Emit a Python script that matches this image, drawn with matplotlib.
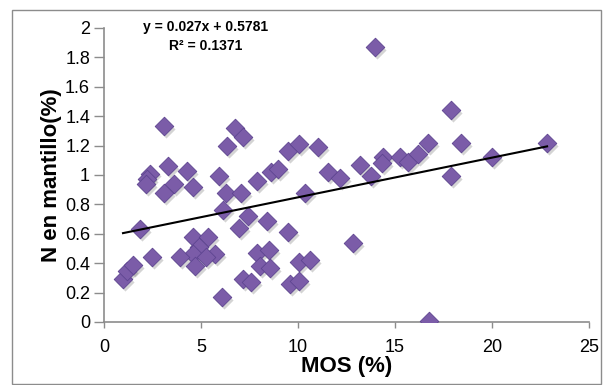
import matplotlib
matplotlib.use("Agg")
import matplotlib.pyplot as plt
from matplotlib.patches import Rectangle
import numpy as np

# MOS (%) vs N en mantillo (%)
mos = [0.98, 1.19, 1.49, 1.86, 2.47, 3.09, 3.30, 4.28, 2.37, 2.22,
       2.16, 5.93, 3.61, 3.09, 4.59, 6.29, 7.06, 7.89, 6.75, 7.16,
       6.34, 8.61, 8.97, 9.48, 10.05, 11.03, 11.55, 12.16, 13.2, 13.76,
       14.38, 14.33, 15.26, 15.67, 16.19, 16.70, 17.89, 18.40, 22.84, 20.0,
       17.89, 16.75, 13.97, 10.36, 12.84, 6.13, 7.42, 8.40, 6.96, 9.48,
       4.59, 5.36, 4.90, 4.59, 3.92, 5.72, 4.69, 5.26, 7.89, 8.51,
       8.04, 8.56, 10.05, 10.62, 9.59, 10.05, 7.16, 7.58, 6.08]
n_mant = [0.29, 0.35, 0.39, 0.63, 0.44, 1.33, 1.06, 1.03, 1.01, 0.97,
          0.94, 0.99, 0.94, 0.88, 0.92, 0.88, 0.88, 0.96, 1.32, 1.26,
          1.20, 1.02, 1.04, 1.16, 1.21, 1.19, 1.02, 0.98, 1.07, 0.99,
          1.12, 1.08, 1.12, 1.09, 1.14, 1.22, 1.44, 1.22, 1.22, 1.12,
          0.99, 0.01, 1.87, 0.88, 0.54, 0.76, 0.72, 0.69, 0.64, 0.61,
          0.58, 0.58, 0.51, 0.46, 0.44, 0.46, 0.38, 0.44, 0.47, 0.49,
          0.38, 0.37, 0.41, 0.42, 0.26, 0.28, 0.29, 0.27, 0.17]

slope = 0.027
intercept = 0.5781
r2 = 0.1371

x_ticks = [0, 5, 10, 15, 20, 25]
y_ticks = [0, 0.2, 0.4, 0.6, 0.8, 1, 1.2, 1.4, 1.6, 1.8, 2]

plt.rcParams['font.family'] = ['Liberation Sans', 'DejaVu Sans']

fig = plt.figure(figsize=(6.03, 3.85), dpi=100)
ax = fig.add_axes([104 / 603, 1 - 322 / 385, 485 / 603, 294 / 385])

# borde exterior del grafico
fig.patches.append(Rectangle((12 / 603, 0.002), 589 / 603, 1 - 10 / 385 - 0.002,
                             transform=fig.transFigure, fill=False,
                             edgecolor='#8c8c8c', linewidth=1))

# sombra + puntos
ax.scatter(np.array(mos) + 0.12, np.array(n_mant) - 0.02, marker='D', s=85,
           color='#555555', alpha=0.25, linewidths=0, zorder=2)
ax.scatter(mos, n_mant, marker='D', s=90, facecolor='#7B5CA8',
           edgecolor='#5E4490', linewidths=0.6, zorder=3)

# linea de tendencia
xl = np.array([min(mos), max(mos)])
ax.plot(xl, slope * xl + intercept, color='black', linewidth=1.5, zorder=4)

ax.set_xlim(0, 25)
ax.set_ylim(0, 2)
ax.set_xticks(x_ticks)
ax.set_yticks(y_ticks)
ax.set_yticklabels([f"{v:g}" for v in y_ticks])
ax.tick_params(axis='both', labelsize=13, direction='out',
               color='#8c8c8c', width=1)
ax.tick_params(axis='y', length=7, pad=3)
ax.tick_params(axis='x', length=4, pad=8)
for s in ['top', 'right']:
    ax.spines[s].set_visible(False)
for s in ['left', 'bottom']:
    ax.spines[s].set_color('#8c8c8c')
    ax.spines[s].set_linewidth(1.2)

ax.set_xlabel('MOS (%)', fontsize=16, fontweight='bold', labelpad=0)
ax.set_ylabel('N en mantillo(%)', fontsize=16, fontweight='bold', labelpad=2)

fig.text(206 / 603, 1 - 27 / 385, f"y = {slope}x + {intercept}", ha='center',
         va='center', fontsize=10, fontweight='bold')
fig.text(206 / 603, 1 - 46 / 385, f"R² = {r2}", ha='center',
         va='center', fontsize=10, fontweight='bold')

fig.savefig('out.png', dpi=100)
